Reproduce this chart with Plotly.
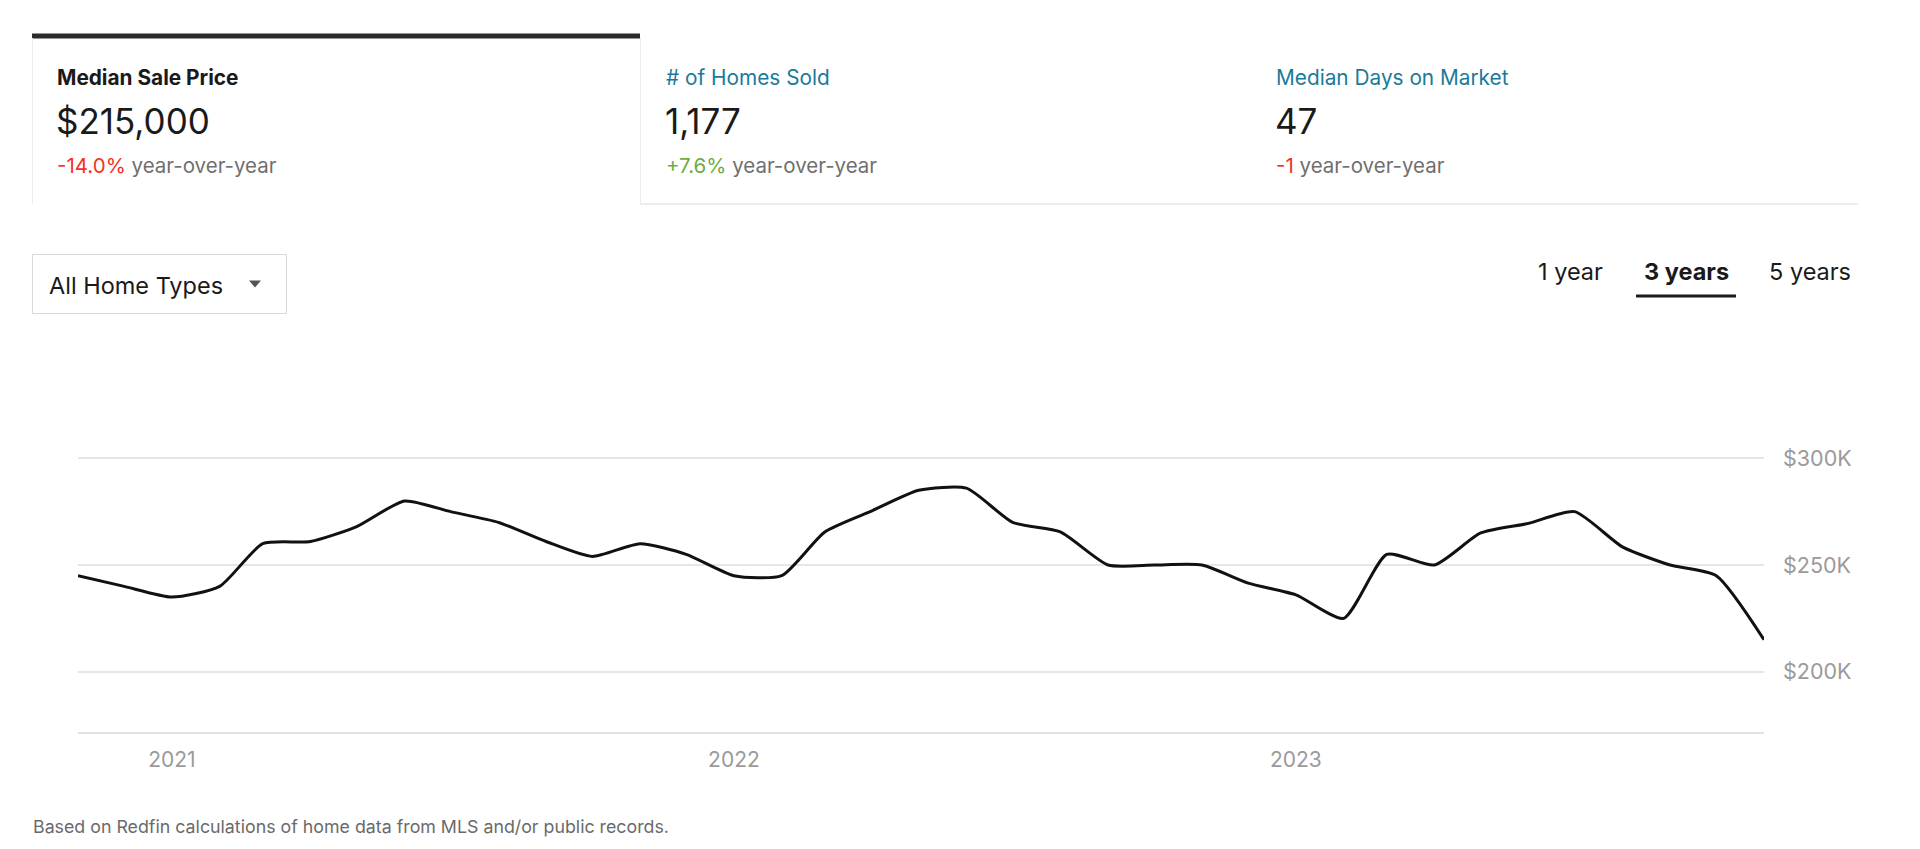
import plotly.graph_objects as go

# ---------------- data ----------------
months = [
    "2020-11-01", "2020-12-01", "2021-01-01", "2021-02-01", "2021-03-01", "2021-04-01",
    "2021-05-01", "2021-06-01", "2021-07-01", "2021-08-01", "2021-09-01", "2021-10-01",
    "2021-11-01", "2021-12-01", "2022-01-01", "2022-02-01", "2022-03-01", "2022-04-01",
    "2022-05-01", "2022-06-01", "2022-07-01", "2022-08-01", "2022-09-01", "2022-10-01",
    "2022-11-01", "2022-12-01", "2023-01-01", "2023-02-01", "2023-03-01", "2023-04-01",
    "2023-05-01", "2023-06-01", "2023-07-01", "2023-08-01", "2023-09-01", "2023-10-01",
    "2023-11-01",
]
median_price = [
    245000, 240000, 235000, 240000, 260000, 261000,
    268000, 280000, 275000, 270000, 261000, 254000,
    260000, 255000, 245000, 245000, 265500, 275500,
    285000, 286000, 270000, 265500, 250000, 250000,
    250000, 241500, 236000, 225000, 255000, 250000,
    265000, 269500, 275000, 258500, 250000, 245000,
    215000,
]
y_tick_values = [200000, 250000, 300000]
y_tick_labels = ["$200K", "$250K", "$300K"]
x_tick_values = ["2021-01-01", "2022-01-01", "2023-01-01"]
x_tick_labels = ["2021", "2022", "2023"]

metric_titles = ["Median Sale Price", "# of Homes Sold", "Median Days on Market"]
metric_values = ["$215,000", "1,177", "47"]
metric_changes = ["-14.0%", "+7.6%", "-1"]
range_options = ["1 year", "3 years", "5 years"]

# ---------------- layout helpers ----------------
W, H = 1920, 849
FONT = "Inter"


def px(x):
    return x / W


def py(y):
    return 1 - y / H


PLOT_L, PLOT_R = 78, 1764
PLOT_B = 731.7
PLOT_T = 400
# y pixel mapping: 300K at 458.3, 250K at 565, 50K = 106.7px
per_px = 50000 / 106.7
y_lo = 300000 - (PLOT_B - 458.3) * per_px
y_hi = 300000 + (458.3 - PLOT_T) * per_px

fig = go.Figure()
fig.add_trace(go.Scatter(
    x=months, y=median_price, mode="lines",
    line=dict(color="#111111", width=3, shape="spline", smoothing=0.6),
    hoverinfo="skip", showlegend=False,
))

fig.update_layout(
    width=W, height=H,
    margin=dict(l=0, r=0, t=0, b=0),
    paper_bgcolor="white", plot_bgcolor="white",
    font=dict(family=FONT),
    xaxis=dict(
        domain=[px(PLOT_L), px(PLOT_R)],
        type="date",
        range=["2020-11-01", "2023-11-01"],
        tickvals=x_tick_values, ticktext=x_tick_labels,
        showgrid=False, zeroline=False,
        showline=True, linecolor="#e3e3e3", linewidth=2,
        ticks="", ticklabelstandoff=8,
        tickfont=dict(family=FONT, size=21, color="#9a9a9a"),
    ),
    yaxis=dict(
        domain=[py(PLOT_B), py(PLOT_T)],
        range=[y_lo, y_hi],
        side="right",
        tickvals=y_tick_values, ticktext=y_tick_labels,
        showgrid=True, gridcolor="#e6e6e6", gridwidth=1.5,
        zeroline=False, showline=False, ticks="",
        ticklabelstandoff=18,
        tickfont=dict(family=FONT, size=21.5, color="#9a9a9a"),
    ),
)

shapes = []
ann = []

# top card: dark bar + light borders
shapes.append(dict(type="rect", xref="paper", yref="paper",
                   x0=px(32), x1=px(640), y0=py(38.5), y1=py(33.5),
                   fillcolor="#2b2b2b", line=dict(width=0)))
shapes.append(dict(type="line", xref="paper", yref="paper",
                   x0=px(32.5), x1=px(32.5), y0=py(38), y1=py(204),
                   line=dict(color="#ececec", width=1)))
shapes.append(dict(type="line", xref="paper", yref="paper",
                   x0=px(640.5), x1=px(640.5), y0=py(38), y1=py(204),
                   line=dict(color="#ececec", width=1)))
shapes.append(dict(type="line", xref="paper", yref="paper",
                   x0=px(640), x1=px(1858), y0=py(204), y1=py(204),
                   line=dict(color="#ececec", width=2)))

# metric cards
card_x = [55, 663.5, 1273.5]
title_colors = ["#1a1a1a", "#1b7a9a", "#1b7a9a"]
change_colors = ["#f5321e", "#6cad45", "#f5321e"]
for i in range(3):
    title = metric_titles[i]
    if i == 0:
        title = "<b>" + title + "</b>"
    ann.append(dict(xref="paper", yref="paper", x=px(card_x[i]), y=py(77.5),
                    xanchor="left", yanchor="middle", showarrow=False,
                    text=title, font=dict(family=FONT, size=20.8, color=title_colors[i])))
    ann.append(dict(xref="paper", yref="paper", x=px(card_x[i] - 1), y=py(121),
                    xanchor="left", yanchor="middle", showarrow=False,
                    text=metric_values[i], font=dict(family=FONT, size=35, color="#1a1a1a")))
    ann.append(dict(xref="paper", yref="paper", x=px(card_x[i]), y=py(165.5),
                    xanchor="left", yanchor="middle", showarrow=False,
                    text="<span style='color:%s'>%s</span> year-over-year"
                         % (change_colors[i], metric_changes[i]),
                    font=dict(family=FONT, size=20.5, color="#6f6f6f")))

# dropdown
shapes.append(dict(type="rect", xref="paper", yref="paper",
                   x0=px(32.5), x1=px(286.5), y0=py(313.5), y1=py(254.5),
                   fillcolor="white", line=dict(color="#d9d9d9", width=1)))
ann.append(dict(xref="paper", yref="paper", x=px(46.5), y=py(286),
                xanchor="left", yanchor="middle", showarrow=False,
                text="All Home Types", font=dict(family=FONT, size=23.5, color="#1a1a1a")))
tx, ty = 255, 284
shapes.append(dict(type="path", xref="paper", yref="paper",
                   path="M %f,%f L %f,%f L %f,%f Z" % (px(tx - 6), py(ty - 3.5), px(tx + 6), py(ty - 3.5), px(tx), py(ty + 3.5)),
                   fillcolor="#555555", line=dict(width=0)))

# range tabs
tab_centers = [1570, 1686, 1810]
for i, lab in enumerate(range_options):
    txt = "<b>" + lab + "</b>" if i == 1 else lab
    ann.append(dict(xref="paper", yref="paper", x=px(tab_centers[i]), y=py(271),
                    xanchor="center", yanchor="middle", showarrow=False,
                    text=txt, font=dict(family=FONT, size=23.5, color="#1a1a1a")))
shapes.append(dict(type="line", xref="paper", yref="paper",
                   x0=px(1636), x1=px(1736), y0=py(296), y1=py(296),
                   line=dict(color="#1a1a1a", width=3)))

# footer
ann.append(dict(xref="paper", yref="paper", x=px(30.5), y=py(826.5),
                xanchor="left", yanchor="middle", showarrow=False,
                text="Based on Redfin calculations of home data from MLS and/or public records.",
                font=dict(family=FONT, size=17.8, color="#6a6a6a")))

fig.update_layout(shapes=shapes, annotations=ann)
fig.write_html("out.html", config={"displayModeBar": False},
               post_script="document.body.style.margin='0px';document.body.style.overflow='hidden';")
